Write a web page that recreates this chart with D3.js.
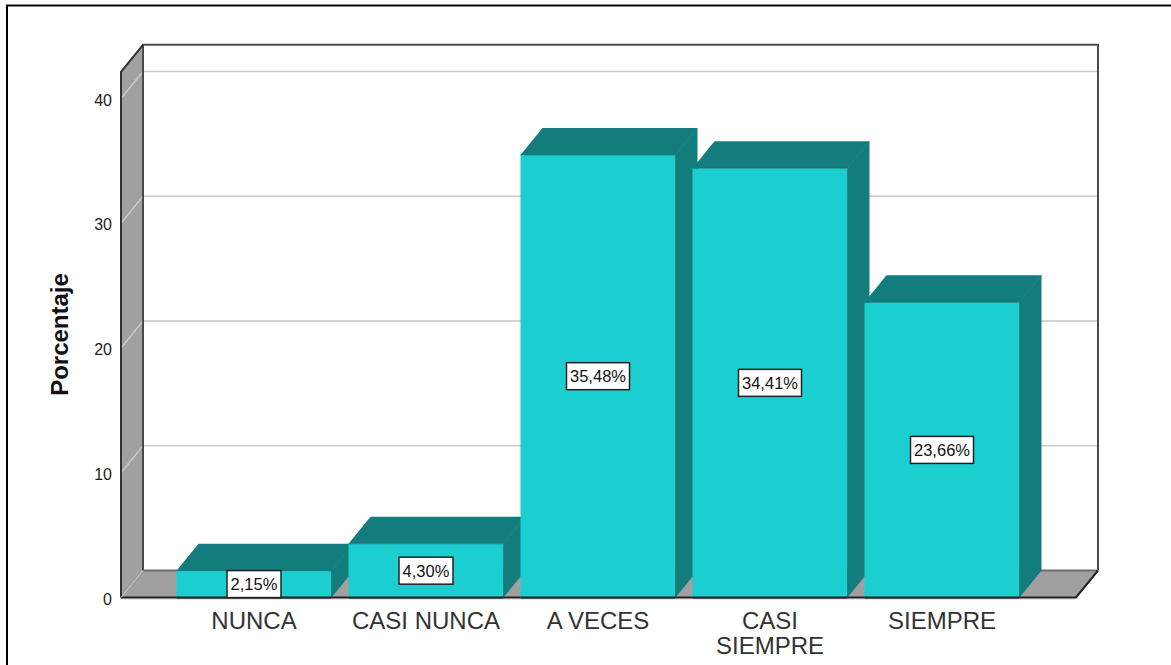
<!DOCTYPE html>
<html>
<head>
<meta charset="utf-8">
<script src="https://cdn.jsdelivr.net/npm/d3@7"></script>
<style>
html,body{margin:0;padding:0;background:#fff;overflow:hidden}
svg{display:block}
text{font-family:"Liberation Sans",Arial,sans-serif}
</style>
</head>
<body>
<svg id="c" width="1171" height="665"></svg>
<script>
const categories = ["NUNCA", "CASI NUNCA", "A VECES", "CASI SIEMPRE", "SIEMPRE"];
const categoryLines = [["NUNCA"], ["CASI NUNCA"], ["A VECES"], ["CASI", "SIEMPRE"], ["SIEMPRE"]];
const values = [2.15, 4.30, 35.48, 34.41, 23.66];
const tickValues = [0, 10, 20, 30, 40];
const yTitle = "Porcentaje";
const axisMax = 42.14;

const colFront = "#1bcfd0", colDark = "#127d7c", colWall = "#a0a0a0",
      colEdge = "#333333", colGrid = "#c9c9c9";
const dx = 22, dy = 27;

const svg = d3.select("#c");
const y = d3.scaleLinear().domain([0, 40]).range([597.5, 98.5]);
const x = d3.scaleBand().domain(categories).range([168, 1028]).paddingInner(0.0988).paddingOuter(0.0494);
const left = 121, right = 1076;
const poly = (pts) => pts.map(p => p.join(",")).join(" ");

// outer frame
svg.append("path").attr("d", "M7,665V5.5H1171").attr("fill", "none").attr("stroke", "#000").attr("stroke-width", 2);

// walls
const yTop = y(axisMax), y0 = y(0);
svg.append("polygon").attr("points", poly([[left, y0], [left + dx, y0 - dy], [left + dx, yTop - dy], [left, yTop]]))
  .attr("fill", colWall);
svg.append("polygon").attr("points", poly([[left, y0], [left + dx, y0 - dy], [right + dx, y0 - dy], [right, y0]]))
  .attr("fill", colWall);

// gridlines
const g = svg.append("g").attr("fill", "none").attr("stroke", colGrid).attr("stroke-width", 1.5);
tickValues.filter(t => t > 0).forEach(t => {
  g.append("path").attr("d", `M${left},${y(t)}L${left + dx},${y(t) - dy}H${right + dx}`);
});

// wall edges
svg.append("path")
  .attr("d", `M${left + dx},${y0 - dy}V${yTop - dy}H${right + dx}V${y0 - dy}`)
  .attr("fill", "none").attr("stroke", "#4a4a4a").attr("stroke-width", 2);
svg.append("path")
  .attr("d", `M${left},${y0}V${yTop}L${left + dx},${yTop - dy}`)
  .attr("fill", "none").attr("stroke", colEdge).attr("stroke-width", 2);
svg.append("path")
  .attr("d", `M${left + dx},${y0 - dy}H${right + dx}`)
  .attr("fill", "none").attr("stroke", "#707070").attr("stroke-width", 2);
svg.append("path")
  .attr("d", `M${left},${y0 + 1.5}H${right}`)
  .attr("fill", "none").attr("stroke", "#d0d0d0").attr("stroke-width", 1);
svg.append("path")
  .attr("d", `M${left},${y0}H${right}L${right + dx},${y0 - dy}`)
  .attr("fill", "none").attr("stroke", "#222").attr("stroke-width", 2);
svg.append("path")
  .attr("d", `M${left},${y0}L${left + dx},${y0 - dy}`)
  .attr("fill", "none").attr("stroke", "#c4c4c4").attr("stroke-width", 1);

// bars
const bars = svg.selectAll("g.bar").data(values).join("g").attr("class", "bar");
bars.each(function (v, i) {
  const b = d3.select(this), x0 = x(categories[i]), w = x.bandwidth(), yv = y(v);
  b.append("polygon").attr("points", poly([[x0 + w, y0], [x0 + w + dx, y0 - dy], [x0 + w + dx, yv - dy], [x0 + w, yv]]))
    .attr("fill", colDark);
  b.append("polygon").attr("points", poly([[x0, yv], [x0 + dx, yv - dy], [x0 + w + dx, yv - dy], [x0 + w, yv]]))
    .attr("fill", colDark);
  b.append("rect").attr("x", x0).attr("y", yv).attr("width", w).attr("height", y0 - yv).attr("fill", colFront);
  b.append("path").attr("d", `M${x0},${yv}H${x0 + w}L${x0 + w + dx},${yv - dy}M${x0 + w},${yv}V${y0}`)
    .attr("fill", "none").attr("stroke", "#0f6f6e").attr("stroke-width", 1).attr("opacity", 0.7);
  b.append("path").attr("d", `M${x0},${y0}H${x0 + w + 0}`).attr("stroke", "#222").attr("stroke-width", 2);
});

// value labels
const labelFmt = v => v.toFixed(2).replace(".", ",") + "%";
bars.each(function (v, i) {
  const b = d3.select(this), cx = x(categories[i]) + x.bandwidth() / 2, cy = (y(v) + y0) / 2;
  const label = labelFmt(v);
  const w = v >= 10 ? 63 : 54, h = 27;
  b.append("rect").attr("x", cx - w / 2).attr("y", cy - h / 2).attr("width", w).attr("height", h)
    .attr("fill", "#fff").attr("stroke", "#222").attr("stroke-width", 1.5);
  b.append("text").attr("x", cx).attr("y", cy + 6).attr("text-anchor", "middle")
    .attr("font-size", 16.5).attr("fill", "#111").text(label);
});

// y axis
const axis = svg.append("g").attr("transform", `translate(${left - 9},1.5)`)
  .call(d3.axisLeft(y).tickValues(tickValues).tickSize(0).tickPadding(0));
axis.select(".domain").remove();
axis.selectAll("text").attr("font-size", 16).attr("fill", "#222")
  .style("font-family", '"Liberation Sans",Arial,sans-serif');

// y title
svg.append("text").attr("transform", "translate(68,334.5) rotate(-90)").attr("text-anchor", "middle")
  .attr("font-size", 24).attr("font-weight", "bold").attr("fill", "#111").text(yTitle);

// category labels
categoryLines.forEach((lines, i) => {
  const cx = x(categories[i]) + x.bandwidth() / 2;
  const t = svg.append("text").attr("text-anchor", "middle").attr("font-size", 24).attr("fill", "#333");
  lines.forEach((l, k) => t.append("tspan").attr("x", cx).attr("y", 629 + k * 24.5).text(l));
});
</script>
</body>
</html>
